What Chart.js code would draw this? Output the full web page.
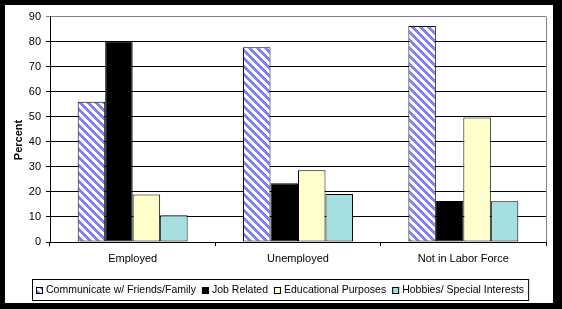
<!DOCTYPE html>
<html>
<head>
<meta charset="utf-8">
<script src="https://cdn.jsdelivr.net/npm/chart.js@4"></script>
<style>
  body { margin: 0; background: #000; }
  #box { position: absolute; left: 5px; top: 5px; width: 548px; height: 298px; background: #fff; }
</style>
</head>
<body>
<div id="box"><canvas id="myChart" width="548" height="298"></canvas></div>
<script>
const categories = ['Employed', 'Unemployed', 'Not in Labor Force'];
const seriesNames = ['Communicate w/ Friends/Family', 'Job Related', 'Educational Purposes', 'Hobbies/ Special Interests'];
const friendsFamily = [56, 77.8, 86.2];
const jobRelated = [80, 23.5, 16.4];
const educational = [19, 28.6, 49.7];
const hobbies = [10.7, 19.2, 16.3];
const yTicks = [0, 10, 20, 30, 40, 50, 60, 70, 80, 90];

const font = 'Liberation Sans, Arial, sans-serif';
const ctx = document.getElementById('myChart').getContext('2d');

function hatch() {
  const c = document.createElement('canvas');
  c.width = 8; c.height = 8;
  const g = c.getContext('2d');
  g.fillStyle = '#fff';
  g.fillRect(0, 0, 8, 8);
  g.fillStyle = '#8080ff';
  for (let y = 0; y < 8; y++)
    for (let x = 0; x < 8; x++)
      if (((x - y) % 8 + 8) % 8 < 4) g.fillRect(x, y, 1, 1);
  return ctx.createPattern(c, 'repeat');
}

const colors = [hatch(), '#000000', '#ffffcc', '#a6dfdf'];
const values = [friendsFamily, jobRelated, educational, hobbies];

// plot frame, y title and boxed legend like the excel original
const extras = {
  id: 'extras',
  afterDraw(chart) {
    const c = chart.ctx, a = chart.chartArea;
    c.save();
    c.strokeStyle = '#808080';
    c.lineWidth = 1;
    c.beginPath();
    c.moveTo(Math.round(a.right) + 0.5, a.top);
    c.lineTo(Math.round(a.right) + 0.5, a.bottom);
    c.stroke();

    c.fillStyle = '#000';
    c.font = 'bold 11px ' + font;
    c.translate(14, 135);
    c.rotate(-Math.PI / 2);
    c.textAlign = 'center';
    c.textBaseline = 'middle';
    c.fillText('Percent', 0, 0);
    c.restore();

    c.save();
    c.font = '10.5px ' + font;
    c.textBaseline = 'middle';
    const ds = chart.data.datasets;
    const widths = ds.map(d => c.measureText(d.label).width);
    let total = 0;
    widths.forEach(w => total += 7 + 3 + w);
    total += 6 * (ds.length - 1);
    const boxW = total + 8, boxH = 21;
    const bx = Math.round(275 - boxW / 2), by = 274;
    c.strokeStyle = '#000';
    c.strokeRect(bx + 0.5, by + 0.5, boxW, boxH);
    let x = bx + 4;
    const cy = by + boxH / 2 + 0.5;
    ds.forEach((d, i) => {
      c.fillStyle = d.backgroundColor;
      c.fillRect(x, Math.round(cy - 3.5), 7, 7);
      c.strokeRect(x + 0.5, Math.round(cy - 3.5) + 0.5, 6, 6);
      c.fillStyle = '#000';
      c.fillText(d.label, x + 10, cy);
      x += 10 + widths[i] + 6;
    });
    c.restore();
  }
};

new Chart(ctx, {
  type: 'bar',
  data: {
    labels: categories,
    datasets: seriesNames.map((name, i) => ({
      label: name,
      data: values[i],
      backgroundColor: colors[i],
      borderColor: '#000',
      borderWidth: 1,
      borderSkipped: false,
      categoryPercentage: 0.665,
      barPercentage: 1
    }))
  },
  options: {
    responsive: false,
    animation: false,
    devicePixelRatio: 1,
    layout: { padding: { top: 10, right: 7, left: 0, bottom: 0 } },
    plugins: { legend: { display: false }, tooltip: { enabled: false } },
    scales: {
      x: {
        afterFit: s => { s.height = 61; },
        grid: { drawOnChartArea: false, drawTicks: true, tickLength: 4, color: '#000' },
        border: { color: '#000' },
        ticks: { color: '#000', font: { family: font, size: 11 }, padding: 6, maxRotation: 0 }
      },
      y: {
        min: 0,
        max: 90,
        afterFit: s => { s.width = 45; },
        afterBuildTicks: s => { s.ticks = yTicks.map(v => ({ value: v })); },
        grid: {
          color: c => c.tick && c.tick.value === 90 ? '#808080' : '#000',
          tickLength: 4
        },
        border: { color: '#000' },
        ticks: { color: '#000', font: { family: font, size: 11 }, padding: 5 }
      }
    }
  },
  plugins: [extras]
});
</script>
</body>
</html>
